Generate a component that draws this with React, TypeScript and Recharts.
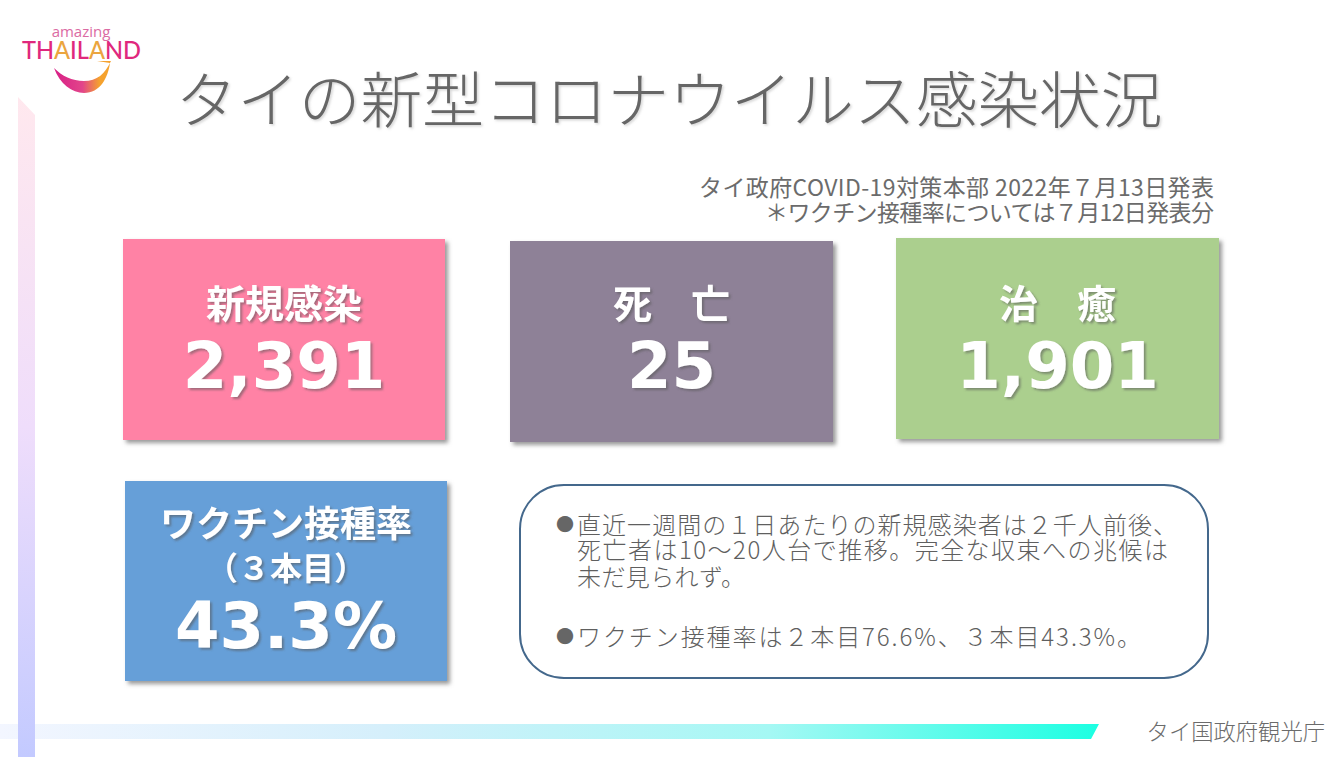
import React from 'react';
import { ComposedChart, XAxis, YAxis, ReferenceArea } from 'recharts';

const WIDTH = 1342;
const HEIGHT = 757;
const JP = '"Noto Sans CJK JP", "Noto Sans", sans-serif';
const NUM = '"DejaVu Sans", sans-serif';

// figures shown on the slide
const categories = ['新規感染', '死　亡', '治　癒', 'ワクチン接種率'];
const values = [2391, 25, 1901, 43.3];
const cardColors = ['#FF82A5', '#8E8197', '#ABCF8E', '#669FD8'];

const title = 'タイの新型コロナウイルス感染状況';
const sourceLines = ['タイ政府COVID-19対策本部 2022年７月13日発表', '＊ワクチン接種率については７月12日発表分'];
const noteLines = [
  '直近一週間の１日あたりの新規感染者は２千人前後、',
  '死亡者は10～20人台で推移。完全な収束への兆候は',
  '未だ見られず。',
  'ワクチン接種率は２本目76.6%、３本目43.3%。',
];
const footer = 'タイ国政府観光庁';

// slide layout, in the 1342x757 coordinates of the axes
const cardBoxes = [
  { x1: 123, x2: 445, y1: 239, y2: 440, labelY: 318, valueY: 388 },
  { x1: 510, x2: 833, y1: 241, y2: 442, labelY: 318, valueY: 388 },
  { x1: 896, x2: 1219, y1: 238, y2: 439, labelY: 318, valueY: 388 },
  { x1: 125, x2: 447, y1: 481, y2: 681, labelY: 537, valueY: 648 },
];
const noteBaselines = [534, 559, 586, 646];
const noteWidths = [600, 591, 168, 564];
const sourceWidths = [515, 449];
const axisEnds = [{ x: 0, y: 0 }, { x: WIDTH, y: HEIGHT }];

const formatValue = (v: number, i: number) => (i === 3 ? `${v.toFixed(1)}%` : v.toLocaleString('en-US'));

const LeftStrip = ({ x, y, width, height, fill }: any) => (
  <polygon points={`${x},${y} ${x + width},${y + 18} ${x + width},${y + height} ${x},${y + height}`} fill={fill} />
);

const BottomStrip = ({ x, y, width, height, fill }: any) => (
  <polygon points={`${x},${y} ${x + width},${y} ${x + width - 8},${y + height} ${x},${y + height}`} fill={fill} />
);

const cardShape = (i: number) => ({ x, y, width, height }: any) => {
  const cx = x + width / 2;
  const box = cardBoxes[i];
  return (
    <g>
      <rect x={x} y={y} width={width} height={height} fill={cardColors[i]} filter="url(#cardShadow)" />
      <g filter="url(#textShadow)" fill="#fff" textAnchor="middle">
        <text x={cx} y={box.labelY} fontFamily={JP} fontWeight={700} fontSize={i === 3 ? 36 : 39}>{categories[i]}</text>
        {i === 3 && <text x={cx} y={580} fontFamily={JP} fontWeight={700} fontSize={32}>（３本目）</text>}
        <text x={cx} y={box.valueY} fontFamily={NUM} fontWeight={700} fontSize={64}>{formatValue(values[i], i)}</text>
      </g>
    </g>
  );
};

const NoteBox = ({ x, y, width, height }: any) => (
  <g>
    <rect x={x} y={y} width={width} height={height} rx={44} ry={44} fill="#fff" stroke="#44688C" strokeWidth={2} />
    <text x={565} y={531} textAnchor="middle" fontFamily={JP} fontSize={18} fill="#666">●</text>
    <text x={565} y={643} textAnchor="middle" fontFamily={JP} fontSize={18} fill="#666">●</text>
    {noteLines.map((line, i) => (
      <text key={i} x={577} y={noteBaselines[i]} fontFamily={JP} fontWeight={300} fontSize={24} fill="#5f5f5f" textLength={noteWidths[i]} lengthAdjust="spacing">{line}</text>
    ))}
  </g>
);

export default function App() {
  return (
    <div style={{ position: 'absolute', left: 0, top: 0, width: WIDTH, height: HEIGHT, background: '#fff' }}>
      <ComposedChart width={WIDTH} height={HEIGHT} data={axisEnds} margin={{ top: 0, right: 0, bottom: 0, left: 0 }}>
        <defs>
          <linearGradient id="sideGrad" x1="0" y1="0" x2="0" y2="1">
            <stop offset="0%" stopColor="#FFE8EE" />
            <stop offset="50%" stopColor="#EFDDFB" />
            <stop offset="100%" stopColor="#C3CAFF" />
          </linearGradient>
          <linearGradient id="bottomGrad" x1="0" y1="0" x2="1" y2="0">
            <stop offset="0%" stopColor="#F3F6FF" />
            <stop offset="35%" stopColor="#D5EFFB" />
            <stop offset="70%" stopColor="#A5F8F4" />
            <stop offset="100%" stopColor="#1CFFE2" />
          </linearGradient>
          <linearGradient id="swoosh" x1="0" y1="0" x2="1" y2="0">
            <stop offset="0%" stopColor="#D81F87" />
            <stop offset="50%" stopColor="#E2458A" />
            <stop offset="80%" stopColor="#F5A22E" />
          </linearGradient>
          <filter id="cardShadow" x="-5%" y="-5%" width="112%" height="112%">
            <feDropShadow dx="3" dy="3" stdDeviation="2" floodColor="#777" floodOpacity="0.75" />
          </filter>
          <filter id="textShadow" x="-5%" y="-10%" width="115%" height="130%">
            <feDropShadow dx="2" dy="2" stdDeviation="1.2" floodColor="#555" floodOpacity="0.55" />
          </filter>
          <filter id="titleShadow" x="-2%" y="-10%" width="104%" height="130%">
            <feDropShadow dx="1.5" dy="1.5" stdDeviation="1.2" floodColor="#888" floodOpacity="0.35" />
          </filter>
        </defs>
        <XAxis type="number" dataKey="x" domain={[0, WIDTH]} allowDataOverflow hide />
        <YAxis type="number" dataKey="y" domain={[0, HEIGHT]} allowDataOverflow reversed hide />

        <ReferenceArea x1={0} x2={1099} y1={724} y2={739} fill="url(#bottomGrad)" fillOpacity={1} stroke="none" shape={BottomStrip} />
        <ReferenceArea x1={18} x2={35} y1={97} y2={757} fill="url(#sideGrad)" fillOpacity={1} stroke="none" shape={LeftStrip} />

        {cardBoxes.map((b, i) => (
          <ReferenceArea key={i} x1={b.x1} x2={b.x2} y1={b.y1} y2={b.y2} stroke="none" shape={cardShape(i)} />
        ))}
        <ReferenceArea x1={520} x2={1208} y1={485} y2={678} stroke="none" shape={NoteBox} />

        {/* logo */}
        <text x={81} y={37} textAnchor="middle" fontFamily='"Open Sans", sans-serif' fontSize={15} fill="#DB6BA3">amazing</text>
        <text x={81.5} y={59} textAnchor="middle" fontFamily='"Lato", sans-serif' fontSize={24} fontWeight={500} fill="#E0287D" textLength={119} lengthAdjust="spacingAndGlyphs">
          TH<tspan fill="#EBA53F">A</tspan>IL<tspan fill="#EBA53F">A</tspan>ND
        </text>
        <path d="M54,68 C60,84 72,93 84,93 C100,93 108,78 110,63 L97,61 L111,61 C105,74 97,81 84,81 C72,81 62,76 54,68 Z" fill="url(#swoosh)" />

        <text x={669} y={123} textAnchor="middle" fontFamily={JP} fontWeight={300} fontSize={61.7} fill="#666" filter="url(#titleShadow)">{title}</text>

        {sourceLines.map((line, i) => (
          <text key={i} x={1214} y={196 + i * 25} textAnchor="end" fontFamily={JP} fontSize={23} fill="#6b6b6b" textLength={sourceWidths[i]} lengthAdjust="spacing">{line}</text>
        ))}

        <text x={1325} y={740} textAnchor="end" fontFamily={JP} fontWeight={300} fontSize={22.3} fill="#6b6b6b">{footer}</text>
      </ComposedChart>
    </div>
  );
}
